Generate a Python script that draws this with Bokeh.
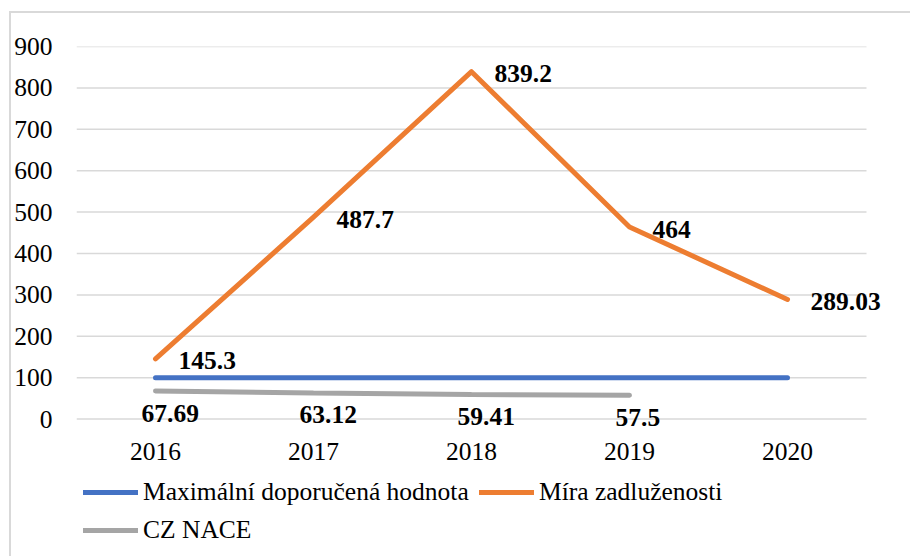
from bokeh.plotting import figure
from bokeh.layouts import column
from bokeh.models import (ColumnDataSource, Range1d, FixedTicker,
                          Legend, LegendItem)
from bokeh.core.properties import value
from bokeh.embed import file_html
from bokeh.resources import INLINE

# ---- data ----
years = ["2016", "2017", "2018", "2019", "2020"]
max_doporucena = [100, 100, 100, 100, 100]
mira_zadluzenosti = [145.3, 487.7, 839.2, 464, 289.03]
mira_labels = ["145.3", "487.7", "839.2", "464", "289.03"]
nace_years = ["2016", "2017", "2018", "2019"]
cz_nace = [67.69, 63.12, 59.41, 57.5]
nace_labels = ["67.69", "63.12", "59.41", "57.5"]
y_ticks = [0, 100, 200, 300, 400, 500, 600, 700, 800, 900]
series_names = ["Maximální doporučená hodnota", "Míra zadluženosti", "CZ NACE"]

# ---- style / geometry ----
FONT = "Liberation Serif"
FS = "25.5px"
BLUE = "#4472C4"
ORANGE = "#ED7D31"
GRAY = "#A5A5A5"
GRID = "#D9D9D9"

W = 899
H1, H2 = 457, 86
LEFT, TOP = 65, 33
PX_X = 158.0            # pixels per category
PX_Y = 372.6 / 900      # pixels per unit
FRAME_H = 383
frame_w = W - LEFT
y_max = y_ticks[-1]
y_min = y_max - FRAME_H / PX_Y

xi = {y: i for i, y in enumerate(years)}
x_all = [xi[y] for y in years]
x_nace = [xi[y] for y in nace_years]
x_lo = x_all[0] - 0.5
x_hi = x_lo + frame_w / PX_X

p = figure(width=W, height=H1, x_range=Range1d(x_lo, x_hi),
           y_range=Range1d(y_min, y_max), output_backend="svg",
           toolbar_location=None, min_border_left=LEFT, min_border_right=0,
           min_border_top=TOP, min_border_bottom=H1 - TOP - FRAME_H)
p.outline_line_color = None
p.background_fill_color = "white"
p.border_fill_color = "white"
p.xgrid.grid_line_color = None
p.ygrid.grid_line_color = None

# horizontal gridlines spanning the category area only
p.segment(x0=[x_lo] * len(y_ticks), x1=[x_all[-1] + 0.5] * len(y_ticks),
          y0=y_ticks, y1=y_ticks, line_color=GRID, line_width=1.5)

p.yaxis.ticker = FixedTicker(ticks=y_ticks)
p.yaxis.axis_line_color = None
p.yaxis.major_tick_line_color = None
p.yaxis.minor_tick_line_color = None
p.yaxis.major_tick_out = 0
p.yaxis.major_label_standoff = 24
p.xaxis.ticker = FixedTicker(ticks=x_all)
p.xaxis.major_label_overrides = {i: y for i, y in enumerate(years)}
p.xaxis.axis_line_color = None
p.xaxis.major_tick_line_color = None
p.xaxis.minor_tick_line_color = None
p.xaxis.major_tick_out = 0
p.xaxis.major_label_standoff = 13
for ax in (p.xaxis, p.yaxis):
    ax.major_label_text_font = FONT
    ax.major_label_text_font_size = FS
    ax.major_label_text_color = "black"

src_max = ColumnDataSource(dict(x=x_all, y=max_doporucena))
src_mira = ColumnDataSource(dict(x=x_all, y=mira_zadluzenosti, t=mira_labels))
src_nace = ColumnDataSource(dict(x=x_nace, y=cz_nace, t=nace_labels))
sources = [src_max, src_mira, src_nace]

line_styles = [dict(line_color=BLUE, line_width=5, line_cap="round"),
               dict(line_color=ORANGE, line_width=5, line_cap="round", line_join="round"),
               dict(line_color=GRAY, line_width=5, line_cap="round")]

for src, st in zip(sources, line_styles):
    p.line("x", "y", source=src, **st)

p.text("x", "y", text="t", source=src_mira, text_font=value(FONT),
       text_font_size=FS, text_font_style="bold", text_color="black",
       text_align="left", text_baseline="middle", x_offset=23, y_offset=2)
p.text("x", "y", text="t", source=src_nace, text_font=value(FONT),
       text_font_size=FS, text_font_style="bold", text_color="black",
       text_align="left", text_baseline="middle", x_offset=-14, y_offset=22)

# ---- legend strip (same series, drawn out of view; only the legend shows) ----
pl = figure(width=W, height=H2, x_range=Range1d(-1000, -999), y_range=Range1d(-1000, -999),
            x_axis_type=None, y_axis_type=None, output_backend="svg",
            toolbar_location=None, min_border=0)
pl.outline_line_color = None
pl.grid.visible = False
proxies = [pl.line("x", "y", source=src, **st) for src, st in zip(sources, line_styles)]

leg_kw = dict(label_text_font=FONT, label_text_font_size=FS, label_text_color="black",
              glyph_width=55, glyph_height=20, label_standoff=5, spacing=0,
              padding=0, margin=0, border_line_color=None, background_fill_alpha=0,
              orientation="horizontal")
# (x, y) positions of each legend entry, relative to the plot frame's left / strip bottom
leg_pos = [(7, 49), (403, 49), (7, 11)]
for name, rend, loc in zip(series_names, proxies, leg_pos):
    pl.add_layout(Legend(items=[LegendItem(label=name, renderers=[rend])],
                         location=loc, **leg_kw))

layout = column(p, pl, spacing=0)
layout.styles = {"margin-left": "9px", "margin-top": "11px",
                 "border-left": "2px solid #D9D9D9", "border-top": "2px solid #D9D9D9"}

open("out.html", "w").write(file_html(layout, INLINE))
